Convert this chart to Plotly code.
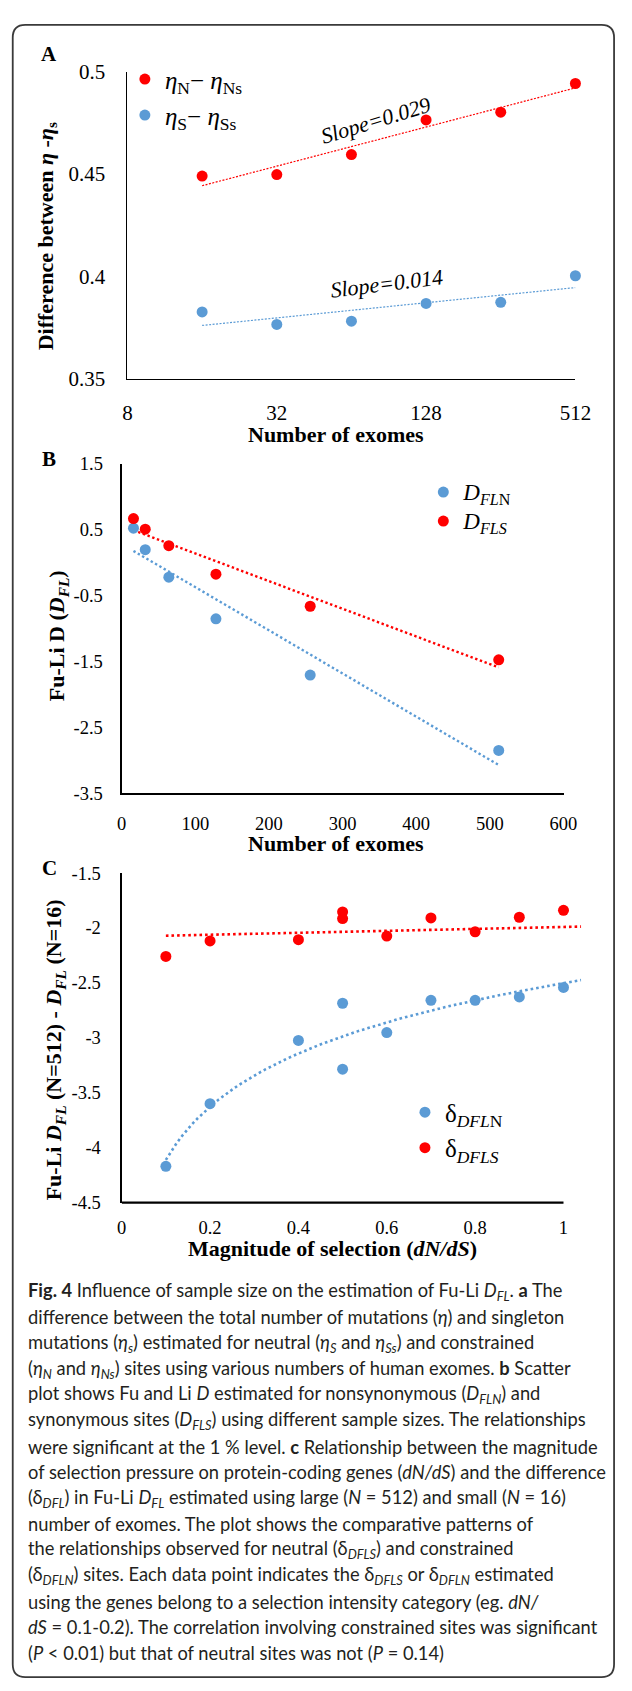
import numpy as np
import plotly.graph_objects as go

W, H = 632, 1691

# ---------------- data ----------------
# Panel A: difference between eta and eta_s vs number of exomes (log2 axis)
a_exomes = [16, 32, 64, 128, 256, 512]
a_eta_n = [0.449, 0.4497, 0.4595, 0.4764, 0.4802, 0.4942]
a_eta_s = [0.3826, 0.3765, 0.3781, 0.3868, 0.3873, 0.4003]
a_yticks = [0.35, 0.4, 0.45, 0.5]
a_yticklabels = ["0.35", "0.4", "0.45", "0.5"]
a_xticks = [8, 32, 128, 512]
a_xticklabels = ["8", "32", "128", "512"]
a_slope_labels = ["Slope=0.029", "Slope=0.014"]

# Panel B: Fu-Li D vs number of exomes
b_exomes = [16, 32, 64, 128, 256, 512]
b_dfln = [0.526, 0.20, -0.217, -0.849, -1.703, -2.847]
b_dfls = [0.672, 0.511, 0.26, -0.172, -0.659, -1.472]
b_yticks = [-3.5, -2.5, -1.5, -0.5, 0.5, 1.5]
b_yticklabels = ["-3.5", "-2.5", "-1.5", "-0.5", "0.5", "1.5"]
b_xticks = [0, 100, 200, 300, 400, 500, 600]
b_xticklabels = ["0", "100", "200", "300", "400", "500", "600"]

# Panel C: delta D_FL vs dN/dS
c_dnds = [0.1, 0.2, 0.4, 0.5, 0.5, 0.6, 0.7, 0.8, 0.9, 1.0]
c_dfln = [-4.17, -3.6, -3.024, -2.685, -3.285, -2.952, -2.658, -2.658, -2.628, -2.541]
c_dfls = [-2.259, -2.118, -2.106, -1.854, -1.914, -2.073, -1.908, -2.034, -1.902, -1.839]
c_dfls_trend_x = [0.1, 1.04]      # trend line as drawn in the figure
c_dfls_trend_y = [-2.07, -1.987]
c_trend_xmax = 1.04
c_yticks = [-4.5, -4, -3.5, -3, -2.5, -2, -1.5]
c_yticklabels = ["-4.5", "-4", "-3.5", "-3", "-2.5", "-2", "-1.5"]
c_xticks = [0, 0.2, 0.4, 0.6, 0.8, 1]
c_xticklabels = ["0", "0.2", "0.4", "0.6", "0.8", "1"]

caption_lines = [
    "<b>Fig. 4</b> Influence of sample size on the estimation of Fu-Li <i>D</i><sub><i>FL</i></sub>. <b>a</b> The",
    "difference between the total number of mutations (<i>η</i>) and singleton",
    "mutations (<i>η</i><sub><i>s</i></sub>) estimated for neutral (<i>η</i><sub><i>S</i></sub> and <i>η</i><sub><i>Ss</i></sub>) and constrained",
    "(<i>η</i><sub><i>N</i></sub> and <i>η</i><sub><i>Ns</i></sub>) sites using various numbers of human exomes. <b>b</b> Scatter",
    "plot shows Fu and Li <i>D</i> estimated for nonsynonymous (<i>D</i><sub><i>FLN</i></sub>) and",
    "synonymous sites (<i>D</i><sub><i>FLS</i></sub>) using different sample sizes. The relationships",
    "were significant at the 1 % level. <b>c</b> Relationship between the magnitude",
    "of selection pressure on protein-coding genes (<i>dN/dS</i>) and the difference",
    "(δ<sub><i>DFL</i></sub>) in Fu-Li <i>D</i><sub><i>FL</i></sub> estimated using large (<i>N</i> = 512) and small (<i>N</i> = 16)",
    "number of exomes. The plot shows the comparative patterns of",
    "the relationships observed for neutral (δ<sub><i>DFLS</i></sub>) and constrained",
    "(δ<sub><i>DFLN</i></sub>) sites. Each data point indicates the δ<sub><i>DFLS</i></sub> or δ<sub><i>DFLN</i></sub> estimated",
    "using the genes belong to a selection intensity category (eg. <i>dN/</i>",
    "<i>dS</i> = 0.1-0.2). The correlation involving constrained sites was significant",
    "(<i>P</i> &lt; 0.01) but that of neutral sites was not (<i>P</i> = 0.14)",
]

# ---------------- style ----------------
SERIF = "Liberation Serif, Times New Roman, serif"
SANS = "Lato, Open Sans, sans-serif"
RED = "#FF0000"
BLUE = "#5B9BD5"
TXT = "#000000"


def px_x(p):
    return p / W


def px_y(p):
    return 1 - p / H


def xdom(a, b):
    return [px_x(a), px_x(b)]


def ydom(top, bottom):
    return [px_y(bottom), px_y(top)]


fig = go.Figure()

# ---------------- panel A ----------------
lx = np.log2(a_exomes)
fit_n = np.polyfit(lx, a_eta_n, 1)
fit_s = np.polyfit(lx, a_eta_s, 1)
tx = np.array([a_exomes[0], a_exomes[-1]])
fig.add_trace(go.Scatter(x=tx, y=np.polyval(fit_n, np.log2(tx)), mode="lines",
                         line=dict(color=RED, width=1.2, dash="2px,1.5px"),
                         showlegend=False, hoverinfo="skip", xaxis="x", yaxis="y"))
fig.add_trace(go.Scatter(x=tx, y=np.polyval(fit_s, np.log2(tx)), mode="lines",
                         line=dict(color=BLUE, width=1.2, dash="2px,1.5px"),
                         showlegend=False, hoverinfo="skip", xaxis="x", yaxis="y"))
fig.add_trace(go.Scatter(x=a_exomes, y=a_eta_n, mode="markers", cliponaxis=False,
                         marker=dict(color=RED, size=11),
                         name="<i>η</i><sub>N</sub>− <i>η</i><sub>Ns</sub>",
                         legend="legend", legendgroup="an", xaxis="x", yaxis="y"))
fig.add_trace(go.Scatter(x=a_exomes, y=a_eta_s, mode="markers", cliponaxis=False,
                         marker=dict(color=BLUE, size=11),
                         name="<i>η</i><sub>S</sub>− <i>η</i><sub>Ss</sub>",
                         legend="legend", legendgroup="as", xaxis="x", yaxis="y"))

# ---------------- panel B ----------------
fit_bn = np.polyfit(b_exomes, b_dfln, 1)
fit_bs = np.polyfit(b_exomes, b_dfls, 1)
bx = np.array([b_exomes[0], b_exomes[-1]])
fig.add_trace(go.Scatter(x=bx, y=np.polyval(fit_bn, bx), mode="lines",
                         line=dict(color=BLUE, width=2.4, dash="2.4px,2.6px"),
                         showlegend=False, hoverinfo="skip", xaxis="x2", yaxis="y2"))
fig.add_trace(go.Scatter(x=bx, y=np.polyval(fit_bs, bx), mode="lines",
                         line=dict(color=RED, width=2.4, dash="2.4px,2.6px"),
                         showlegend=False, hoverinfo="skip", xaxis="x2", yaxis="y2"))
fig.add_trace(go.Scatter(x=b_exomes, y=b_dfln, mode="markers", cliponaxis=False,
                         marker=dict(color=BLUE, size=11),
                         name='<span style="font-size:23px"><i>D</i><sub><i>FL</i>N</sub></span>',
                         legend="legend2", legendgroup="bn", xaxis="x2", yaxis="y2"))
fig.add_trace(go.Scatter(x=b_exomes, y=b_dfls, mode="markers", cliponaxis=False,
                         marker=dict(color=RED, size=11),
                         name='<span style="font-size:23px"><i>D</i><sub><i>FLS</i></sub></span>',
                         legend="legend2", legendgroup="bs", xaxis="x2", yaxis="y2"))

# ---------------- panel C ----------------
fit_cn = np.polyfit(np.log(c_dnds), c_dfln, 1)
cx = np.linspace(min(c_dnds), c_trend_xmax, 80)
fig.add_trace(go.Scatter(x=cx, y=np.polyval(fit_cn, np.log(cx)), mode="lines",
                         line=dict(color=BLUE, width=2.6, dash="2.6px,3px"),
                         showlegend=False, hoverinfo="skip", xaxis="x3", yaxis="y3"))
fig.add_trace(go.Scatter(x=c_dfls_trend_x, y=c_dfls_trend_y, mode="lines",
                         line=dict(color=RED, width=2.6, dash="2.6px,3px"),
                         showlegend=False, hoverinfo="skip", xaxis="x3", yaxis="y3"))
fig.add_trace(go.Scatter(x=c_dnds, y=c_dfln, mode="markers", cliponaxis=False,
                         marker=dict(color=BLUE, size=11),
                         name="δ<sub><i>DFL</i>N</sub>",
                         legend="legend3", legendgroup="cn", xaxis="x3", yaxis="y3"))
fig.add_trace(go.Scatter(x=c_dnds, y=c_dfls, mode="markers", cliponaxis=False,
                         marker=dict(color=RED, size=11),
                         name="δ<sub><i>DFLS</i></sub>",
                         legend="legend3", legendgroup="cs", xaxis="x3", yaxis="y3"))

# ---------------- axes ----------------
common = dict(showgrid=False, zeroline=False, showline=True, linecolor="black",
              ticks="", mirror=False)

fig.update_layout(
    xaxis=dict(common, domain=xdom(126.7, 590), anchor="y", type="log",
               range=[np.log10(8), np.log10(512)], tickvals=a_xticks, ticktext=a_xticklabels,
               linewidth=1.3, tickfont=dict(family=SERIF, size=21, color=TXT),
               ticklabelstandoff=15),
    yaxis=dict(common, domain=ydom(60.5, 372), anchor="x", range=[0.35, 0.5],
               tickvals=a_yticks, ticktext=a_yticklabels, linewidth=1.3,
               tickfont=dict(family=SERIF, size=21, color=TXT), ticklabelstandoff=17),
    xaxis2=dict(common, domain=xdom(120.7, 577.7), anchor="y2", range=[0, 600],
                tickvals=b_xticks, ticktext=b_xticklabels, linewidth=2.2,
                tickfont=dict(family=SERIF, size=18.5, color=TXT), ticklabelstandoff=12),
    yaxis2=dict(common, domain=ydom(458.5, 792.7), anchor="x2", range=[-3.5, 1.5],
                tickvals=b_yticks, ticktext=b_yticklabels, linewidth=2.2,
                tickfont=dict(family=SERIF, size=18.5, color=TXT), ticklabelstandoff=13),
    xaxis3=dict(common, domain=xdom(120.7, 120.7 + (577.7 - 120.7) * c_trend_xmax),
                anchor="y3", range=[0, c_trend_xmax], showline=False,
                tickvals=c_xticks, ticktext=c_xticklabels,
                tickfont=dict(family=SERIF, size=18.5, color=TXT), ticklabelstandoff=12),
    yaxis3=dict(common, domain=ydom(873.5, 1207.7), anchor="x3", range=[-4.5, -1.5],
                tickvals=c_yticks, ticktext=c_yticklabels, linewidth=2.2,
                tickfont=dict(family=SERIF, size=18.5, color=TXT), ticklabelstandoff=15),
)

# C x-axis line only up to x = 1
fig.add_shape(type="line", xref="x3", yref="y3 domain", x0=0, x1=1, y0=0, y1=0,
              line=dict(color="black", width=2.2), layer="above")

# ---------------- legends ----------------
leg_common = dict(bgcolor="rgba(0,0,0,0)", xanchor="left", yanchor="top",
                  traceorder="grouped", itemsizing="trace", borderwidth=0)
fig.update_layout(
    legend=dict(leg_common, x=px_x(144 - 20), y=px_y(67.7 - 22.75), tracegroupgap=0.5,
                font=dict(family=SERIF, size=25, color=TXT)),
    legend2=dict(leg_common, x=px_x(452.7 - 20), y=px_y(486.7 - 19.5), tracegroupgap=0,
                 font=dict(family=SERIF, size=20, color=TXT)),
    legend3=dict(leg_common, x=px_x(433.7 - 20), y=px_y(1115.7 - 22.75), tracegroupgap=0,
                 font=dict(family=SERIF, size=25, color=TXT)),
)

# ---------------- annotations ----------------
annots = []


def ann(text, x, y, size, family=SERIF, angle=0, xanchor="center", yanchor="middle", color=TXT):
    annots.append(dict(text=text, x=px_x(x), y=px_y(y), xref="paper", yref="paper",
                       showarrow=False, textangle=angle, xanchor=xanchor, yanchor=yanchor,
                       font=dict(family=family, size=size, color=color)))


# panel letters
ann("<b>A</b>", 46, 43, 21)
ann("<b>B</b>", 46, 453, 21)
ann("<b>C</b>", 46, 868, 21)

# axis titles
ann("<b>Difference between <i>η</i> -<i>η</i><sub>s</sub></b>", 43, 228, 22, angle=-90)
ann("<b>Number of exomes</b>", 342.6, 429, 22)
ann("<b>Fu-Li D (<i>D</i><sub><i>FL</i></sub>)</b>", 55, 633, 22, angle=-90)
ann("<b>Number of exomes</b>", 342.6, 843, 22)
ann("<b>Fu-Li <i>D</i><sub><i>FL</i></sub> (N=512) - <i>D</i><sub><i>FL</i></sub> (N=16)</b>",
    52, 1053, 22, angle=-90)
ann("<b>Magnitude of selection (<i>dN/dS</i>)</b>", 339, 1254, 22)

# slope labels
ann("<i>" + a_slope_labels[0] + "</i>", 383, 110, 22, angle=-17)
ann("<i>" + a_slope_labels[1] + "</i>", 395, 275, 22, angle=-7)

# caption
for i, line in enumerate(caption_lines):
    ann(line, 22, 1298 + 26.2 * i, 18.3, family=SANS, xanchor="left", color="#231F20")

# rounded frame
x0, y0, x1, y1, r = 8, 13, 630, 1689, 13
P = lambda x, y: f"{px_x(x):.5f},{px_y(y):.5f}"
path = (f"M {P(x0 + r, y0)} L {P(x1 - r, y0)} Q {P(x1, y0)} {P(x1, y0 + r)} "
        f"L {P(x1, y1 - r)} Q {P(x1, y1)} {P(x1 - r, y1)} "
        f"L {P(x0 + r, y1)} Q {P(x0, y1)} {P(x0, y1 - r)} "
        f"L {P(x0, y0 + r)} Q {P(x0, y0)} {P(x0 + r, y0)} Z")
fig.add_shape(type="path", xref="paper", yref="paper", path=path,
              line=dict(color="#3a3a3a", width=1.8), fillcolor="rgba(0,0,0,0)")

fig.update_layout(
    width=W, height=H, autosize=False,
    margin=dict(l=0, r=0, t=0, b=0),
    paper_bgcolor="white", plot_bgcolor="white",
    annotations=annots, showlegend=True,
)

fig.write_html("out.html", config={"displayModeBar": False},
               post_script="document.body.style.margin='0px';document.body.style.padding='0px';")
